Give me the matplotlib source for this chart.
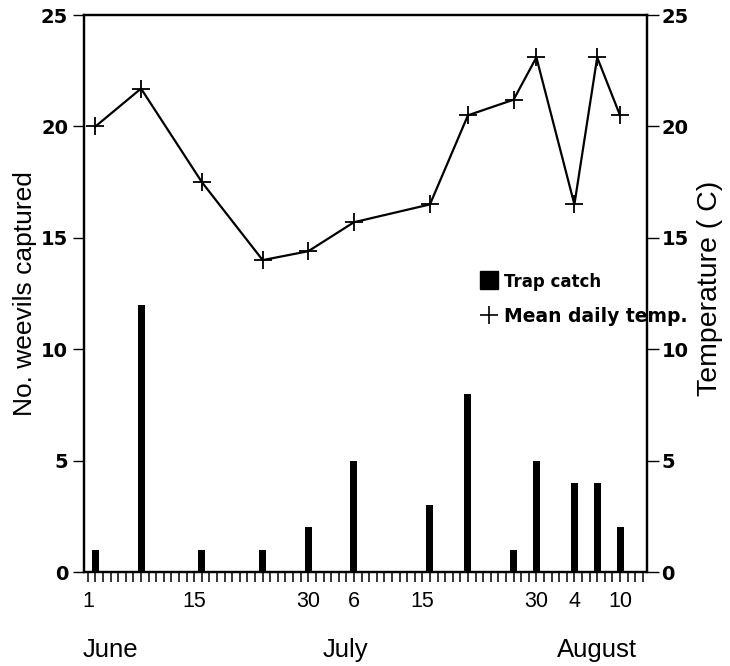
import numpy as np
import matplotlib.pyplot as plt
from matplotlib.lines import Line2D
from matplotlib.transforms import blended_transform_factory

plt.rcParams['font.family'] = ['Liberation Sans', 'DejaVu Sans']

# Sampling days, counted from June 1 = day 1
days = [2, 8, 16, 24, 30, 36, 46, 51, 57, 60, 65, 68, 71]
# Trap catch (number of weevils)
catch = [1, 12, 1, 1, 2, 5, 3, 8, 1, 5, 4, 4, 2]
# Mean daily temperature (C)
temp = [20.0, 21.7, 17.5, 14.0, 14.4, 15.7, 16.5, 20.5, 21.2, 23.1, 16.5, 23.1, 20.5]

# x tick positions (days) and their labels
tick_days = [1, 15, 30, 36, 45, 60, 65, 71]
tick_labels = ['1', '15', '30', '6', '15', '30', '4', '10']
# month names under the day labels
months = ['June', 'July', 'August']
month_days = [0.3, 34.9, 68.0]

yticks = [0, 5, 10, 15, 20, 25]


def bold_ticks(axis):
    for lab in axis.get_yticklabels():
        lab.set_fontsize(14)
        lab.set_fontweight('bold')
        lab.set_family('DejaVu Sans')


fig = plt.figure(figsize=(7.3, 6.66), dpi=100)
ax = fig.add_axes([0.1151, 0.1411, 0.7712, 0.8363])

# bars for trap catch
ax.bar(days, catch, width=0.92, color='black')

ax.set_xlim(0.5, 74.55)
ax.set_ylim(0, 25)
ax.set_yticks(yticks)
ax.set_xticks(tick_days)
ax.set_xticklabels(tick_labels, fontsize=15.5)
ax.set_xticks(np.arange(1, 75), minor=True)
ax.tick_params(axis='x', which='both', direction='out', length=7, width=1.1, pad=7)
ax.tick_params(axis='y', direction='out', length=8, width=1.0, pad=3.5)
bold_ticks(ax)
ax.set_ylabel('No. weevils captured', fontsize=19)
ax.yaxis.set_label_coords(-0.083, 0.5)
for s in ax.spines.values():
    s.set_linewidth(1.6)

# month labels
trans = blended_transform_factory(ax.transData, ax.transAxes)
ax.text(month_days[0], -0.14, months[0], transform=trans, ha='left', va='center', fontsize=18.5)
for m, d in zip(months[1:], month_days[1:]):
    ax.text(d, -0.14, m, transform=trans, ha='center', va='center', fontsize=18.5)

# temperature on right axis
ax2 = ax.twinx()
ax2.plot(days, temp, color='black', lw=1.6, marker='+', markersize=13, mew=1.3)
ax2.set_ylim(0, 25)
ax2.set_yticks(yticks)
ax2.tick_params(axis='y', direction='out', length=8.5, width=1.0, pad=2)
bold_ticks(ax2)
ax2.set_ylabel('Temperature ( C)', fontsize=20.5)
ax2.yaxis.set_label_coords(1.088, 0.51)
for s in ax2.spines.values():
    s.set_linewidth(1.6)

# legend
handles = [Line2D([], [], color='black', marker='s', linestyle='none', markersize=13),
           Line2D([], [], color='black', marker='+', linestyle='none', markersize=13, mew=1.2)]
leg = ax2.legend(handles, ['Trap catch', 'Mean daily temp.'], loc='upper left',
                 bbox_to_anchor=(0.703, 0.537), frameon=False, handlelength=1.0,
                 handletextpad=0.3, labelspacing=0.85, borderaxespad=0, borderpad=0,
                 prop={'weight': 'bold', 'size': 13.5, 'family': 'DejaVu Sans'})
leg.get_texts()[0].set_fontsize(12)

fig.savefig('out.png', dpi=100)
